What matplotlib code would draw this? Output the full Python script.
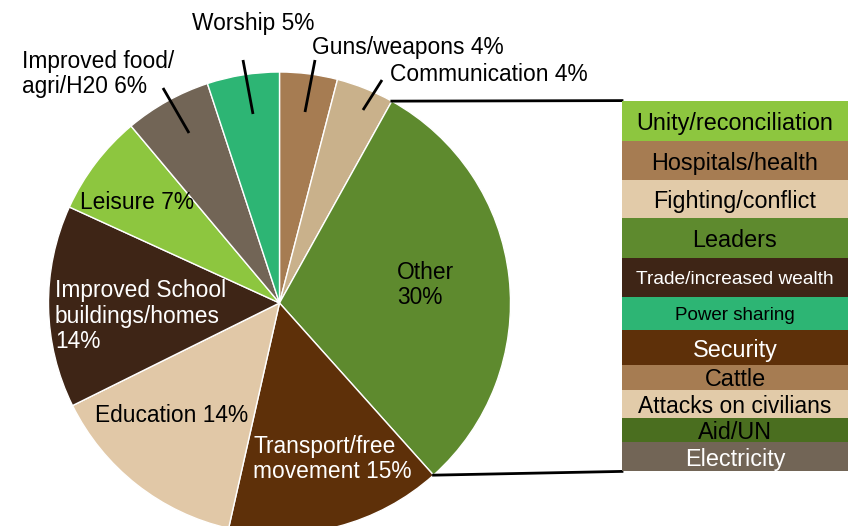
import matplotlib
matplotlib.use("Agg")
import matplotlib.pyplot as plt
import numpy as np

plt.rcParams['font.family'] = ['Liberation Sans', 'DejaVu Sans']

# ---- data ----
pie_labels = ["Guns/weapons", "Communication", "Other", "Transport/free movement",
              "Education", "Improved School buildings/homes", "Leisure",
              "Improved food/agri/H20", "Worship"]
pie_values = [4, 4, 30, 15, 14, 14, 7, 6, 5]
pie_colors = ["#A67C52", "#C9B18B", "#5E8A2E", "#5E3009", "#E1C8A7",
              "#3E2516", "#8DC63F", "#726556", "#2DB574"]

bar_labels = ["Unity/reconciliation", "Hospitals/health", "Fighting/conflict", "Leaders",
              "Trade/increased wealth", "Power sharing", "Security", "Cattle",
              "Attacks on civilians", "Aid/UN", "Electricity"]
bar_values = [3.3, 3.1, 3.1, 3.2, 3.2, 2.7, 2.8, 2.0, 2.3, 1.9, 2.4]
bar_colors = ["#8DC63F", "#A67C52", "#E2CBA9", "#5E8A2E", "#3E2516", "#2DB574",
              "#5E3009", "#A67C52", "#E2CBA9", "#4A6E1F", "#726556"]
bar_text_colors = ["black", "black", "black", "black", "white", "black",
                   "white", "black", "black", "black", "white"]
bar_font_sizes = [16.8, 16.8, 16.8, 16.8, 13.8, 13.5, 16.8, 16.8, 16.5, 16.8, 16.8]

W, H = 852, 526
fig = plt.figure(figsize=(W / 100, H / 100), dpi=100)
ax = fig.add_axes([0, 0, 1, 1])

cx, cy, R = 279.5, H - 303, 231
wedges, _ = ax.pie(pie_values, colors=pie_colors, startangle=90, counterclock=False,
                   center=(cx, cy), radius=R,
                   wedgeprops=dict(edgecolor="white", linewidth=1))
ax.set_xlim(0, W)
ax.set_ylim(0, H)
ax.set_aspect('equal')
ax.axis('off')

def P(x, y):
    return x, H - y

fs = 16.4
ls = 1.12
# inside labels
ax.text(*P(397, 285), "Other\n30%", fontsize=fs, color="black", ha="left", va="center", linespacing=ls)
ax.text(*P(253, 459), "Transport/free\nmovement 15%", fontsize=fs, color="white", ha="left", va="center", linespacing=ls)
ax.text(*P(95, 413), "Education 14%", fontsize=fs, color="black", ha="left", va="center_baseline")
ax.text(*P(55, 316), "Improved School\nbuildings/homes\n14%", fontsize=fs, color="white", ha="left", va="center", linespacing=ls)
ax.text(*P(80, 200), "Leisure 7%", fontsize=fs, color="black", ha="left", va="center_baseline")
# outside labels
ax.text(*P(22, 74), "Improved food/\nagri/H20 6%", fontsize=fs, color="black", ha="left", va="center", linespacing=ls)
ax.text(*P(192, 21), "Worship 5%", fontsize=fs, color="black", ha="left", va="center_baseline")
ax.text(*P(312, 45), "Guns/weapons 4%", fontsize=fs, color="black", ha="left", va="center_baseline")
ax.text(*P(390, 72), "Communication 4%", fontsize=fs, color="black", ha="left", va="center_baseline")

# leader lines
for (x0, y0), (x1, y1) in [((163, 88), (189, 133)), ((243, 60), (253, 114)),
                           ((315, 60), (305, 112)), ((382, 80), (363, 110))]:
    ax.plot([x0, x1], [H - y0, H - y1], color="black", lw=2, solid_capstyle="butt")

# bar of pie
total = sum(bar_values)
top_y, bot_y = 100.6, 471.4
bx0, bx1 = 622, 848
ax2 = fig.add_axes([bx0 / W, (H - bot_y) / H, (bx1 - bx0) / W, (bot_y - top_y) / H])
bottoms = np.concatenate([[0], np.cumsum(bar_values)[:-1]])
ax2.bar([0] * len(bar_values), bar_values, bottom=bottoms, width=1, color=bar_colors, linewidth=0)
for lab, v, b, tc, f in zip(bar_labels, bar_values, bottoms, bar_text_colors, bar_font_sizes):
    ax2.text(0, b + v / 2, lab, ha="center", va="center_baseline", color=tc, fontsize=f)
ax2.set_xlim(-0.5, 0.5)
ax2.set_ylim(total, 0)
ax2.axis('off')

# connector lines from the "Other" wedge
w = wedges[2]
for ang, yb in [(w.theta2, top_y), (w.theta1, bot_y)]:
    a = np.deg2rad(ang)
    px, py = cx + R * np.cos(a), cy + R * np.sin(a)
    ax.plot([px, bx0], [py, H - yb], color="black", lw=2)

fig.savefig("out.png", dpi=100)
